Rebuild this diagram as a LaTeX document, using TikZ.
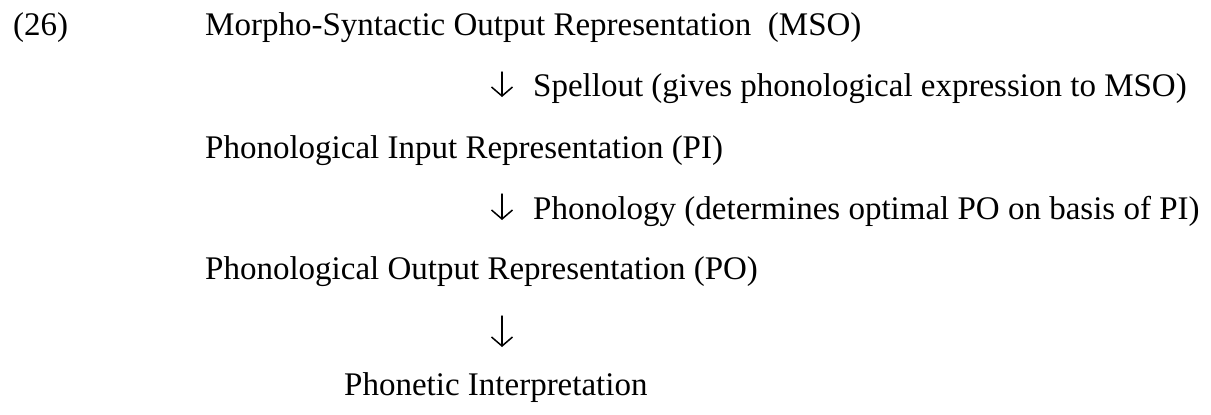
\documentclass[tikz,border=0pt]{standalone}
\usepackage{fontspec}
\setmainfont{Liberation Serif}
\usetikzlibrary{arrows.meta}
\tikzset{
  row/.style={anchor=base west, inner sep=0pt, font=\fontsize{33}{40}\selectfont},
  flow/.style={line width=1.5pt, line cap=round, -{Straight Barb[length=9pt,width=21pt]}}
}
\begin{document}
\begin{tikzpicture}[x=1pt, y=-1pt]
    \useasboundingbox (0,0) rectangle (1211,415);

    % Numero dell'esempio e rappresentazioni
    \node[row] (num) at (13,35) {(26)};
    \node[row] (mso) at (205,35) {Morpho-Syntactic Output Representation \ (MSO)};
    \node[row] (spell) at (533,96) {Spellout (gives phonological expression to MSO)};
    \node[row] (pi) at (205,158) {Phonological Input Representation (PI)};
    \node[row] (phon) at (533,219) {Phonology (determines optimal PO on basis of PI)};
    \node[row] (po) at (205,279) {Phonological Output Representation (PO)};
    \node[row] (pint) at (344,395) {Phonetic Interpretation};

    % Frecce (fermate sotto la riga precedente)
    \coordinate (s1) at (502,72);  \coordinate (e1) at (502,97);
    \coordinate (s2) at (502,194); \coordinate (e2) at (502,220);
    \coordinate (s3) at (502,316); \coordinate (e3) at (502,347);
    \draw[flow] (s1) -- (e1);
    \draw[flow] (s2) -- (e2);
    \draw[flow] (s3) -- (e3);
\end{tikzpicture}
\end{document}
